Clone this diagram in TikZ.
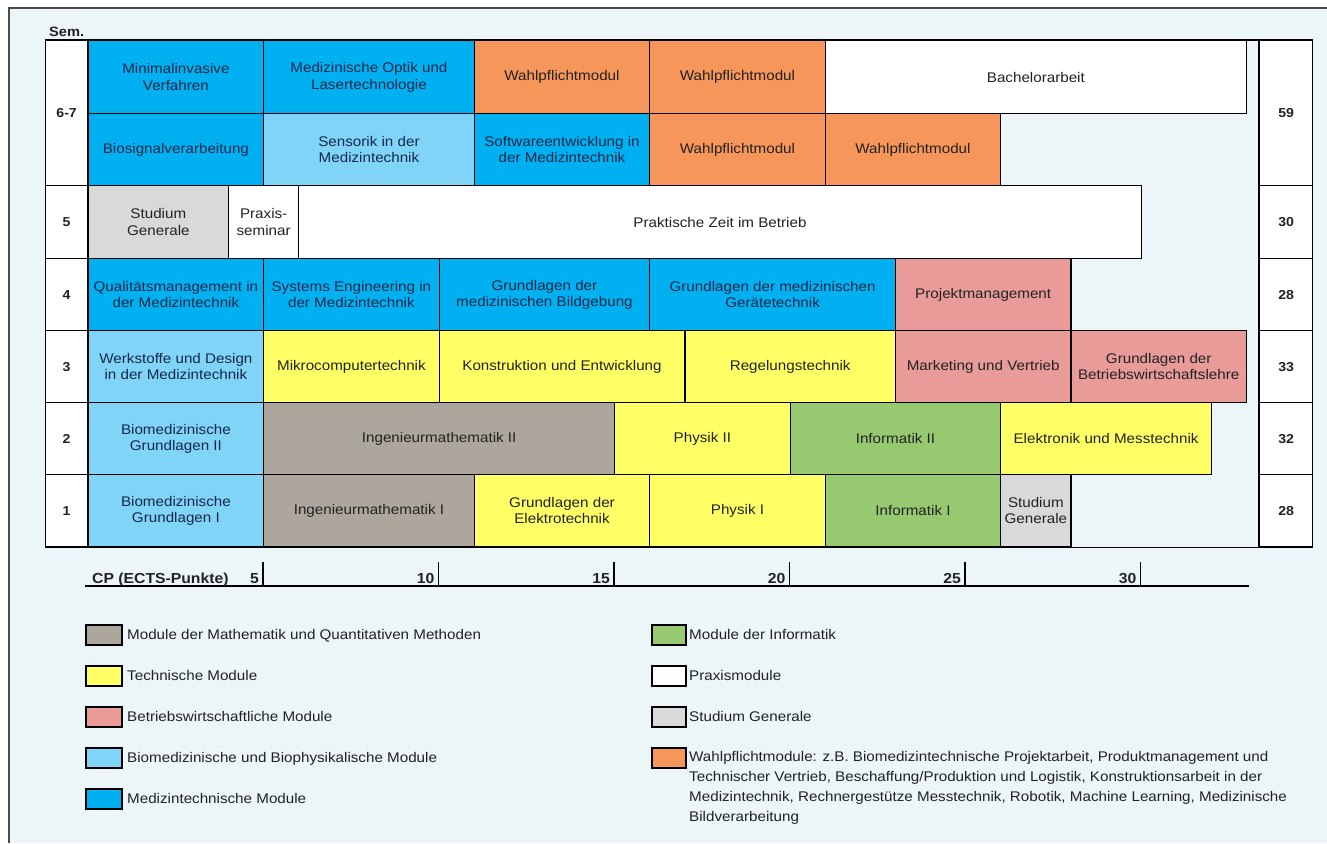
\documentclass[tikz,border=0pt]{standalone}
\usepackage{fontspec}
\setmainfont{Liberation Sans}[FakeStretch=1.085]
\definecolor{bg}{HTML}{ECF5F8}
\definecolor{mt}{HTML}{00B0F0}
\definecolor{bio}{HTML}{80D4F8}
\definecolor{wp}{HTML}{F7965A}
\definecolor{math}{HTML}{ADA69D}
\definecolor{tech}{HTML}{FFFF66}
\definecolor{bwl}{HTML}{E99B9A}
\definecolor{inf}{HTML}{97C971}
\definecolor{sg}{HTML}{D9D9D9}
\definecolor{txt}{HTML}{222222}
\definecolor{navy}{HTML}{14284A}
\newcommand\modul[7]{%
  \pgfmathsetmacro\mxa{87.5+35.1*#2}%
  \pgfmathsetmacro\mxb{87.5+35.1*#3}%
  \pgfmathsetmacro\mw{\mxb-\mxa}%
  \pgfmathsetmacro\mh{#5-#4}%
  \node[modbox,#6,minimum width=\mw pt,minimum height=\mh pt,anchor=north west] (#1) at (\mxa,#4) {#7};}
\begin{document}
\begin{tikzpicture}[x=1pt,y=-1pt,
  modbox/.style={draw=black,line width=1.3pt,inner sep=1pt,align=center,text=txt,
    font=\fontsize{14}{16.5}\selectfont},
  cmt/.style={fill=mt,text=navy},
  cbio/.style={fill=bio,text=navy},
  cwp/.style={fill=wp},
  cmath/.style={fill=math},
  ctech/.style={fill=tech},
  cbwl/.style={fill=bwl},
  cinf/.style={fill=inf},
  csg/.style={fill=sg},
  cprax/.style={fill=white},
  semcell/.style={draw=black,line width=1.2pt,fill=white,inner sep=0pt,anchor=north west,
    text=txt,font=\bfseries\fontsize{13}{15}\selectfont},
  legsq/.style={draw=black,line width=2pt,minimum width=36pt,minimum height=20pt,inner sep=0pt,anchor=north west},
  legtxt/.style={anchor=base west,inner sep=0pt,text=txt,font=\fontsize{14}{20}\selectfont},
  boldlab/.style={inner sep=0pt,text=txt,font=\bfseries\fontsize{14.5}{16}\selectfont}
]
\useasboundingbox (0,0) rectangle (1327,843);
% frame
\fill[bg] (9,8) rectangle (1327,843);
\draw[line width=1.5pt,black!70] (9,843) -- (9,8) -- (1327,8);

% Sem. label
\node[boldlab,anchor=base west,font=\bfseries\fontsize{13.5}{16}\selectfont] (sem) at (49,37) {Sem.};

% left semester column
\node[semcell,minimum width=42pt,minimum height=145pt] (s67) at (45,40) {6-7};
\node[semcell,minimum width=42pt,minimum height=73pt] (s5) at (45,185) {5};
\node[semcell,minimum width=42pt,minimum height=72pt] (s4) at (45,258) {4};
\node[semcell,minimum width=42pt,minimum height=72pt] (s3) at (45,330) {3};
\node[semcell,minimum width=42pt,minimum height=72pt] (s2) at (45,402) {2};
\node[semcell,minimum width=42pt,minimum height=72pt] (s1) at (45,474) {1};

% right CP column
\node[semcell,minimum width=53pt,minimum height=145pt] (c67) at (1259,40) {59};
\node[semcell,minimum width=53pt,minimum height=73pt] (c5) at (1259,185) {30};
\node[semcell,minimum width=53pt,minimum height=72pt] (c4) at (1259,258) {28};
\node[semcell,minimum width=53pt,minimum height=72pt] (c3) at (1259,330) {33};
\node[semcell,minimum width=53pt,minimum height=72pt] (c2) at (1259,402) {32};
\node[semcell,minimum width=53pt,minimum height=72pt] (c1) at (1259,474) {28};
\draw[line width=2.4pt] (c67.north west) -- (c1.south west);

% table top and bottom lines
\draw[line width=1.2pt] (s67.north west) -- (c67.north east);
\draw[line width=1pt] (s1.south west) -- (c1.south east);

% semester 6-7
\modul{a1}{0}{5}{40}{113}{cmt}{Minimalinvasive\\Verfahren}
\modul{a2}{5}{11}{40}{113}{cmt}{Medizinische Optik und\\Lasertechnologie}
\modul{a3}{11}{16}{40}{113}{cwp}{Wahlpflichtmodul}
\modul{a4}{16}{21}{40}{113}{cwp}{Wahlpflichtmodul}
\modul{a5}{21}{33}{40}{113}{cprax}{Bachelorarbeit}
\modul{b1}{0}{5}{113}{185}{cmt}{Biosignalverarbeitung}
\modul{b2}{5}{11}{113}{185}{cbio}{Sensorik in der\\Medizintechnik}
\modul{b3}{11}{16}{113}{185}{cmt}{Softwareentwicklung in\\der Medizintechnik}
\modul{b4}{16}{21}{113}{185}{cwp}{Wahlpflichtmodul}
\modul{b5}{21}{26}{113}{185}{cwp}{Wahlpflichtmodul}
% semester 5
\modul{e1}{0}{4}{185}{258}{csg}{Studium\\Generale}
\modul{e2}{4}{6}{185}{258}{cprax}{Praxis-\\seminar}
\modul{e3}{6}{30}{185}{258}{cprax}{Praktische Zeit im Betrieb}
% semester 4
\modul{d1}{0}{5}{258}{330}{cmt}{Qualitätsmanagement in\\der Medizintechnik}
\modul{d2}{5}{10}{258}{330}{cmt}{Systems Engineering in\\der Medizintechnik}
\modul{d3}{10}{16}{258}{330}{cmt}{Grundlagen der\\medizinischen Bildgebung}
\modul{d4}{16}{23}{258}{330}{cmt}{Grundlagen der medizinischen\\Gerätetechnik}
\modul{d5}{23}{28}{258}{330}{cbwl}{Projektmanagement}
% semester 3
\modul{f1}{0}{5}{330}{402}{cbio}{Werkstoffe und Design\\in der Medizintechnik}
\modul{f2}{5}{10}{330}{402}{ctech}{Mikrocomputertechnik}
\modul{f3}{10}{17}{330}{402}{ctech}{Konstruktion und Entwicklung}
\modul{f4}{17}{23}{330}{402}{ctech}{Regelungstechnik}
\modul{f5}{23}{28}{330}{402}{cbwl}{Marketing und Vertrieb}
\modul{f6}{28}{33}{330}{402}{cbwl}{Grundlagen der\\Betriebswirtschaftslehre}
% semester 2
\modul{g1}{0}{5}{402}{474}{cbio}{Biomedizinische\\Grundlagen II}
\modul{g2}{5}{15}{402}{474}{cmath}{Ingenieurmathematik II}
\modul{g3}{15}{20}{402}{474}{ctech}{Physik II}
\modul{g4}{20}{26}{402}{474}{cinf}{Informatik II}
\modul{g5}{26}{32}{402}{474}{ctech}{Elektronik und Messtechnik}
% semester 1
\modul{h1}{0}{5}{474}{546}{cbio}{Biomedizinische\\Grundlagen I}
\modul{h2}{5}{11}{474}{546}{cmath}{Ingenieurmathematik I}
\modul{h3}{11}{16}{474}{546}{ctech}{Grundlagen der\\Elektrotechnik}
\modul{h4}{16}{21}{474}{546}{ctech}{Physik I}
\modul{h5}{21}{26}{474}{546}{cinf}{Informatik I}
\modul{h6}{26}{28}{474}{546}{csg}{Studium\\Generale}

% CP axis
\coordinate (ax0) at (85,586);
\coordinate (ax1) at (1249,586);
\draw[line width=1.2pt] (ax0) -- (ax1);
\node[boldlab,anchor=base west] (cplab) at (92,583) {CP (ECTS-Punkte)};
\foreach \c in {5,10,15,20,25,30}{
  \pgfmathsetmacro\tx{87.5+35.1*\c}
  \coordinate (tk\c) at (\tx,562);
  \draw[line width=1.2pt] (tk\c) -- (\tx,586);
  \node[boldlab,anchor=base east] (tl\c) at (\tx-4,583) {\c};
}

% legend left
\node[legsq,fill=math] (l1) at (85,624) {};
\node[legtxt] (lt1) at (127,639) {Module der Mathematik und Quantitativen Methoden};
\node[legsq,fill=tech] (l2) at (85,665) {};
\node[legtxt] (lt2) at (127,680) {Technische Module};
\node[legsq,fill=bwl] (l3) at (85,706) {};
\node[legtxt] (lt3) at (127,721) {Betriebswirtschaftliche Module};
\node[legsq,fill=bio] (l4) at (85,747) {};
\node[legtxt] (lt4) at (127,762) {Biomedizinische und Biophysikalische Module};
\node[legsq,fill=mt] (l5) at (85,788) {};
\node[legtxt] (lt5) at (127,803) {Medizintechnische Module};
% legend right
\node[legsq,fill=inf,minimum width=34pt] (r1) at (651,624) {};
\node[legtxt] (rt1) at (689,639) {Module der Informatik};
\node[legsq,fill=white,minimum width=34pt] (r2) at (651,665) {};
\node[legtxt] (rt2) at (689,680) {Praxismodule};
\node[legsq,fill=sg,minimum width=34pt] (r3) at (651,706) {};
\node[legtxt] (rt3) at (689,721) {Studium Generale};
\node[legsq,fill=wp,minimum width=34pt] (r4) at (651,747) {};
\node[legtxt,anchor=north west,align=left] (rt4) at (689,751.5) {Wahlpflichtmodule: z.B. Biomedizintechnische Projektarbeit, Produktmanagement und\\Technischer Vertrieb, Beschaffung/Produktion und Logistik, Konstruktionsarbeit in der\\Medizintechnik, Rechnergestütze Messtechnik, Robotik, Machine Learning, Medizinische\\Bildverarbeitung};
\end{tikzpicture}
\end{document}
